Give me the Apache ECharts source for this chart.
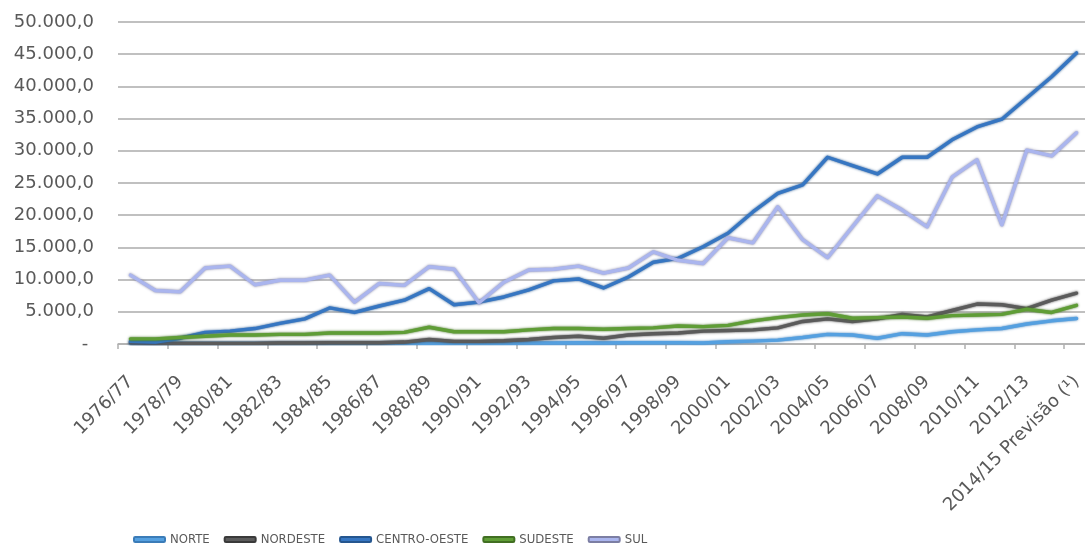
<!DOCTYPE html>
<html>
<head>
<meta charset="utf-8">
<style>
  html, body { margin: 0; padding: 0; background: #ffffff; }
  #chart { width: 1085px; height: 546px; }
</style>
<script src="https://cdn.jsdelivr.net/npm/echarts@6/dist/echarts.min.js"></script>
</head>
<body>
<div id="chart"></div>
<script>
// Safras 1976/77 a 2014/15 por região (mil toneladas)
const categories = [
  '1976/77', '1977/78', '1978/79', '1979/80', '1980/81', '1981/82', '1982/83', '1983/84',
  '1984/85', '1985/86', '1986/87', '1987/88', '1988/89', '1989/90', '1990/91', '1991/92',
  '1992/93', '1993/94', '1994/95', '1995/96', '1996/97', '1997/98', '1998/99', '1999/00',
  '2000/01', '2001/02', '2002/03', '2003/04', '2004/05', '2005/06', '2006/07', '2007/08',
  '2008/09', '2009/10', '2010/11', '2011/12', '2012/13', '2013/14', '2014/15 Previsão (¹)'
];

const norte = [
  100, 100, 100, 100, 100, 100, 100, 100,
  100, 100, 100, 100, 150, 100, 100, 100,
  150, 150, 200, 150, 200, 200, 200, 150,
  350, 450, 600, 1000, 1500, 1400, 900, 1600,
  1400, 1900, 2200, 2400, 3100, 3600, 3950
];

const nordeste = [
  200, 100, 100, 100, 100, 100, 150, 150,
  200, 200, 200, 300, 700, 400, 400, 500,
  700, 1000, 1200, 900, 1400, 1600, 1700, 2000,
  2100, 2200, 2500, 3500, 3900, 3500, 3900, 4600,
  4200, 5200, 6200, 6100, 5500, 6800, 7900
];

const centroOeste = [
  400, 300, 900, 1800, 2000, 2400, 3200, 3900,
  5600, 4900, 5900, 6800, 8600, 6100, 6500, 7300,
  8400, 9800, 10100, 8700, 10400, 12700, 13300, 15100,
  17200, 20500, 23400, 24700, 29000, 27700, 26400, 29000,
  29000, 31700, 33700, 34900, 38200, 41500, 45200
];

const sudeste = [
  800, 800, 1000, 1200, 1400, 1400, 1500, 1500,
  1700, 1700, 1700, 1800, 2600, 1900, 1900, 1900,
  2200, 2400, 2400, 2300, 2400, 2500, 2800, 2700,
  2900, 3600, 4100, 4500, 4700, 4000, 4100, 4200,
  4000, 4400, 4500, 4600, 5400, 4900, 6000
];

const sul = [
  10700, 8300, 8100, 11800, 12100, 9200, 9900, 9900,
  10700, 6500, 9400, 9100, 12000, 11600, 6400, 9600,
  11500, 11600, 12100, 11000, 11800, 14300, 13000, 12500,
  16500, 15700, 21300, 16200, 13400, 18200, 23000, 20800,
  18200, 25900, 28600, 18500, 30100, 29200, 32800
];

const seriesNames = ['NORTE', 'NORDESTE', 'CENTRO-OESTE', 'SUDESTE', 'SUL'];
const seriesData = [norte, nordeste, centroOeste, sudeste, sul];
const lineColors = ['#55a0e0', '#5b5b5b', '#3676c2', '#5f9d36', '#aab5ee'];
const edgeColors = ['#3b7cb8', '#3a3a3a', '#25568f', '#416f22', '#7c7ea3'];

const textColor = '#595959';
const labelFont = 'DejaVu Sans';

function brNumber(v) {
  if (v === 0) return '- ';
  const s = Math.round(v).toString().replace(/\B(?=(\d{3})+(?!\d))/g, '.');
  return s + ',0';
}

const chart = echarts.init(document.getElementById('chart'), null, { renderer: 'canvas' });

chart.setOption({
  backgroundColor: '#ffffff',
  animation: false,
  grid: {
    left: 118,
    right: -4,
    top: 22,
    bottom: 202,
    containLabel: false,
    outerBoundsMode: 'none'
  },
  legend: {
    left: 133,
    top: 533,
    padding: 0,
    itemWidth: 31,
    itemHeight: 5,
    itemGap: 14,
    icon: 'roundRect',
    textStyle: {
      color: textColor,
      fontFamily: "'DejaVu Sans Condensed', 'Noto Sans', sans-serif",
      fontSize: 13
    },
    data: seriesNames
  },
  xAxis: {
    type: 'category',
    data: categories,
    boundaryGap: true,
    axisLine: { show: true, lineStyle: { color: '#b0b0b0', width: 1.5 } },
    axisTick: { show: true, length: 5, lineStyle: { color: '#b0b0b0', width: 1.5 } },
    axisLabel: {
      interval: 1,
      rotate: 45,
      margin: 35,
      color: textColor,
      fontFamily: labelFont,
      fontSize: 18
    },
    splitLine: { show: false }
  },
  yAxis: {
    type: 'value',
    min: 0,
    max: 50000,
    interval: 5000,
    axisLine: { show: false },
    axisTick: { show: false },
    axisLabel: {
      margin: 24,
      color: textColor,
      fontFamily: labelFont,
      fontSize: 18,
      formatter: brNumber
    },
    splitLine: { show: true, lineStyle: { color: '#ababab', width: 1.5 } }
  },
  series: seriesNames.map((name, i) => ({
    name: name,
    type: 'line',
    data: seriesData[i],
    symbol: 'none',
    showSymbol: false,
    smooth: false,
    color: lineColors[i],
    lineStyle: {
      color: lineColors[i],
      width: 3.4,
      cap: 'round',
      join: 'round',
      shadowColor: edgeColors[i],
      shadowBlur: 2.5
    },
    itemStyle: {
      color: lineColors[i],
      borderColor: edgeColors[i],
      borderWidth: 1
    },
    z: 2 + i
  }))
});
</script>
</body>
</html>
